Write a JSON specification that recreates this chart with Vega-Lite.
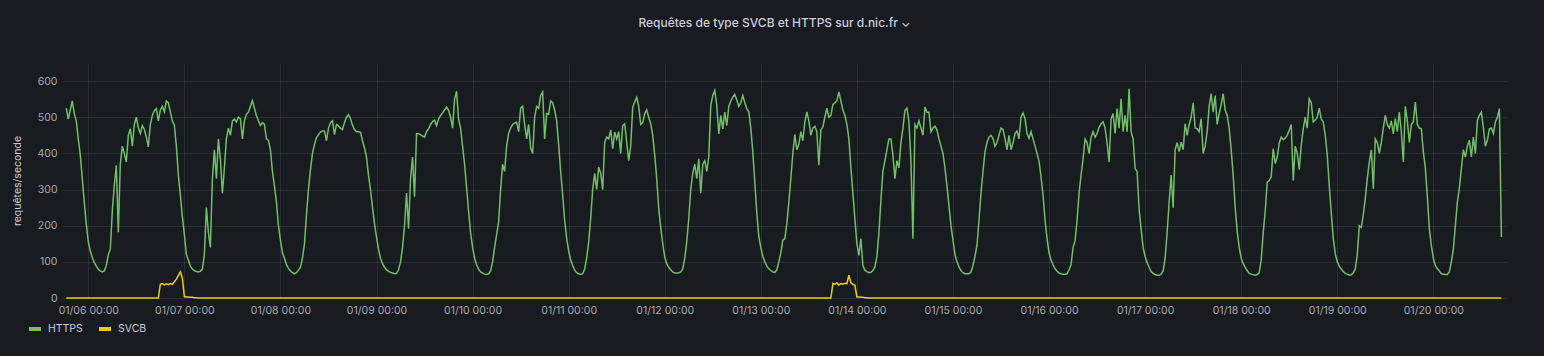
{
"$schema":"https://vega.github.io/schema/vega-lite/v6.json",
"width":1445,"height":235,
"autosize":{"type":"none"},
"padding":{"left":62,"top":63,"right":37,"bottom":58},
"background":"#181b1f",
"title":{"text":"Requêtes de type SVCB et HTTPS sur d.nic.fr ⌄","color":"#ccccdc","fontSize":12,"fontWeight":500,"font":"Inter","anchor":"middle","frame":"group","dx":-10,"offset":33},
"data":{"format":{"parse":{"t":"utc:'%d %H:%M'"}},"values":[
{"t":"05 18:30","HTTPS":525,"SVCB":0},{"t":"05 19:00","HTTPS":495,"SVCB":0},{"t":"05 19:30","HTTPS":520,"SVCB":0},{"t":"05 20:00","HTTPS":545,"SVCB":0},{"t":"05 20:30","HTTPS":510,"SVCB":0},{"t":"05 21:00","HTTPS":490,"SVCB":0},{"t":"05 21:30","HTTPS":440,"SVCB":0},{"t":"05 22:00","HTTPS":395,"SVCB":0},{"t":"05 22:30","HTTPS":330,"SVCB":0},{"t":"05 23:00","HTTPS":265,"SVCB":0},{"t":"05 23:30","HTTPS":205,"SVCB":0},
{"t":"06 00:00","HTTPS":155,"SVCB":0},{"t":"06 00:30","HTTPS":130,"SVCB":0},{"t":"06 01:00","HTTPS":112,"SVCB":0},{"t":"06 01:30","HTTPS":98,"SVCB":0},{"t":"06 02:00","HTTPS":88,"SVCB":0},{"t":"06 02:30","HTTPS":80,"SVCB":0},{"t":"06 03:00","HTTPS":75,"SVCB":0},{"t":"06 03:30","HTTPS":72,"SVCB":0},{"t":"06 04:00","HTTPS":75,"SVCB":0},{"t":"06 04:30","HTTPS":90,"SVCB":0},
{"t":"06 05:00","HTTPS":120,"SVCB":0},{"t":"06 05:30","HTTPS":135,"SVCB":0},{"t":"06 06:00","HTTPS":240,"SVCB":0},{"t":"06 06:30","HTTPS":311,"SVCB":0},{"t":"06 07:00","HTTPS":367,"SVCB":0},{"t":"06 07:30","HTTPS":182,"SVCB":0},{"t":"06 08:00","HTTPS":370,"SVCB":0},{"t":"06 08:30","HTTPS":420,"SVCB":0},{"t":"06 09:00","HTTPS":400,"SVCB":0},{"t":"06 09:30","HTTPS":376,"SVCB":0},
{"t":"06 10:00","HTTPS":450,"SVCB":0},{"t":"06 10:30","HTTPS":468,"SVCB":0},{"t":"06 11:00","HTTPS":420,"SVCB":0},{"t":"06 11:30","HTTPS":480,"SVCB":0},{"t":"06 12:00","HTTPS":500,"SVCB":0},{"t":"06 12:30","HTTPS":470,"SVCB":0},{"t":"06 13:00","HTTPS":455,"SVCB":0},{"t":"06 13:30","HTTPS":477,"SVCB":0},{"t":"06 14:00","HTTPS":466,"SVCB":0},{"t":"06 14:30","HTTPS":445,"SVCB":0},
{"t":"06 15:00","HTTPS":418,"SVCB":0},{"t":"06 15:30","HTTPS":480,"SVCB":0},{"t":"06 16:00","HTTPS":505,"SVCB":0},{"t":"06 16:30","HTTPS":518,"SVCB":0},{"t":"06 17:00","HTTPS":524,"SVCB":0},{"t":"06 17:30","HTTPS":490,"SVCB":0},{"t":"06 18:00","HTTPS":520,"SVCB":38},{"t":"06 18:30","HTTPS":530,"SVCB":40},{"t":"06 19:00","HTTPS":515,"SVCB":36},{"t":"06 19:30","HTTPS":545,"SVCB":39},
{"t":"06 20:00","HTTPS":540,"SVCB":37},{"t":"06 20:30","HTTPS":515,"SVCB":40},{"t":"06 21:00","HTTPS":490,"SVCB":38},{"t":"06 21:30","HTTPS":478,"SVCB":45},{"t":"06 22:00","HTTPS":420,"SVCB":52},{"t":"06 22:30","HTTPS":340,"SVCB":62},{"t":"06 23:00","HTTPS":285,"SVCB":72},{"t":"06 23:30","HTTPS":225,"SVCB":55},
{"t":"07 00:00","HTTPS":175,"SVCB":4},{"t":"07 00:30","HTTPS":120,"SVCB":3},{"t":"07 01:00","HTTPS":105,"SVCB":3},{"t":"07 01:30","HTTPS":88,"SVCB":2},{"t":"07 02:00","HTTPS":80,"SVCB":2},{"t":"07 02:30","HTTPS":76,"SVCB":1},{"t":"07 03:00","HTTPS":73,"SVCB":1},{"t":"07 03:30","HTTPS":72,"SVCB":0},{"t":"07 04:00","HTTPS":74,"SVCB":0},{"t":"07 04:30","HTTPS":80,"SVCB":0},
{"t":"07 05:00","HTTPS":120,"SVCB":0},{"t":"07 05:30","HTTPS":250,"SVCB":0},{"t":"07 06:00","HTTPS":182,"SVCB":0},{"t":"07 06:30","HTTPS":140,"SVCB":0},{"t":"07 07:00","HTTPS":330,"SVCB":0},{"t":"07 07:30","HTTPS":410,"SVCB":0},{"t":"07 08:00","HTTPS":330,"SVCB":0},{"t":"07 08:30","HTTPS":440,"SVCB":0},{"t":"07 09:00","HTTPS":385,"SVCB":0},{"t":"07 09:30","HTTPS":290,"SVCB":0},
{"t":"07 10:00","HTTPS":360,"SVCB":0},{"t":"07 10:30","HTTPS":440,"SVCB":0},{"t":"07 11:00","HTTPS":470,"SVCB":0},{"t":"07 11:30","HTTPS":450,"SVCB":0},{"t":"07 12:00","HTTPS":490,"SVCB":0},{"t":"07 12:30","HTTPS":495,"SVCB":0},{"t":"07 13:00","HTTPS":487,"SVCB":0},{"t":"07 13:30","HTTPS":500,"SVCB":0},{"t":"07 14:00","HTTPS":496,"SVCB":0},{"t":"07 14:30","HTTPS":440,"SVCB":0},
{"t":"07 15:00","HTTPS":490,"SVCB":0},{"t":"07 15:30","HTTPS":508,"SVCB":0},{"t":"07 16:00","HTTPS":514,"SVCB":0},{"t":"07 16:30","HTTPS":530,"SVCB":0},{"t":"07 17:00","HTTPS":546,"SVCB":0},{"t":"07 17:30","HTTPS":525,"SVCB":0},{"t":"07 18:00","HTTPS":505,"SVCB":0},{"t":"07 18:30","HTTPS":490,"SVCB":0},{"t":"07 19:00","HTTPS":477,"SVCB":0},{"t":"07 19:30","HTTPS":485,"SVCB":0},
{"t":"07 20:00","HTTPS":480,"SVCB":0},{"t":"07 20:30","HTTPS":440,"SVCB":0},{"t":"07 21:00","HTTPS":436,"SVCB":0},{"t":"07 21:30","HTTPS":410,"SVCB":0},{"t":"07 22:00","HTTPS":350,"SVCB":0},{"t":"07 22:30","HTTPS":310,"SVCB":0},{"t":"07 23:00","HTTPS":265,"SVCB":0},{"t":"07 23:30","HTTPS":200,"SVCB":0},
{"t":"08 00:00","HTTPS":160,"SVCB":0},{"t":"08 00:30","HTTPS":125,"SVCB":0},{"t":"08 01:00","HTTPS":110,"SVCB":0},{"t":"08 01:30","HTTPS":92,"SVCB":0},{"t":"08 02:00","HTTPS":82,"SVCB":0},{"t":"08 02:30","HTTPS":75,"SVCB":0},{"t":"08 03:00","HTTPS":70,"SVCB":0},{"t":"08 03:30","HTTPS":67,"SVCB":0},{"t":"08 04:00","HTTPS":70,"SVCB":0},{"t":"08 04:30","HTTPS":77,"SVCB":0},
{"t":"08 05:00","HTTPS":85,"SVCB":0},{"t":"08 05:30","HTTPS":110,"SVCB":0},{"t":"08 06:00","HTTPS":150,"SVCB":0},{"t":"08 06:30","HTTPS":230,"SVCB":0},{"t":"08 07:00","HTTPS":300,"SVCB":0},{"t":"08 07:30","HTTPS":355,"SVCB":0},{"t":"08 08:00","HTTPS":400,"SVCB":0},{"t":"08 08:30","HTTPS":425,"SVCB":0},{"t":"08 09:00","HTTPS":443,"SVCB":0},{"t":"08 09:30","HTTPS":452,"SVCB":0},
{"t":"08 10:00","HTTPS":459,"SVCB":0},{"t":"08 10:30","HTTPS":462,"SVCB":0},{"t":"08 11:00","HTTPS":462,"SVCB":0},{"t":"08 11:30","HTTPS":435,"SVCB":0},{"t":"08 12:00","HTTPS":470,"SVCB":0},{"t":"08 12:30","HTTPS":485,"SVCB":0},{"t":"08 13:00","HTTPS":490,"SVCB":0},{"t":"08 13:30","HTTPS":452,"SVCB":0},{"t":"08 14:00","HTTPS":480,"SVCB":0},{"t":"08 14:30","HTTPS":476,"SVCB":0},
{"t":"08 15:00","HTTPS":470,"SVCB":0},{"t":"08 15:30","HTTPS":466,"SVCB":0},{"t":"08 16:00","HTTPS":485,"SVCB":0},{"t":"08 16:30","HTTPS":500,"SVCB":0},{"t":"08 17:00","HTTPS":507,"SVCB":0},{"t":"08 17:30","HTTPS":496,"SVCB":0},{"t":"08 18:00","HTTPS":478,"SVCB":0},{"t":"08 18:30","HTTPS":466,"SVCB":0},{"t":"08 19:00","HTTPS":460,"SVCB":0},{"t":"08 19:30","HTTPS":460,"SVCB":0},
{"t":"08 20:00","HTTPS":458,"SVCB":0},{"t":"08 20:30","HTTPS":435,"SVCB":0},{"t":"08 21:00","HTTPS":415,"SVCB":0},{"t":"08 21:30","HTTPS":390,"SVCB":0},{"t":"08 22:00","HTTPS":339,"SVCB":0},{"t":"08 22:30","HTTPS":300,"SVCB":0},{"t":"08 23:00","HTTPS":250,"SVCB":0},{"t":"08 23:30","HTTPS":205,"SVCB":0},
{"t":"09 00:00","HTTPS":168,"SVCB":0},{"t":"09 00:30","HTTPS":135,"SVCB":0},{"t":"09 01:00","HTTPS":110,"SVCB":0},{"t":"09 01:30","HTTPS":95,"SVCB":0},{"t":"09 02:00","HTTPS":85,"SVCB":0},{"t":"09 02:30","HTTPS":78,"SVCB":0},{"t":"09 03:00","HTTPS":74,"SVCB":0},{"t":"09 03:30","HTTPS":71,"SVCB":0},{"t":"09 04:00","HTTPS":69,"SVCB":0},{"t":"09 04:30","HTTPS":67,"SVCB":0},
{"t":"09 05:00","HTTPS":68,"SVCB":0},{"t":"09 05:30","HTTPS":78,"SVCB":0},{"t":"09 06:00","HTTPS":100,"SVCB":0},{"t":"09 06:30","HTTPS":140,"SVCB":0},{"t":"09 07:00","HTTPS":200,"SVCB":0},{"t":"09 07:30","HTTPS":290,"SVCB":0},{"t":"09 08:00","HTTPS":192,"SVCB":0},{"t":"09 08:30","HTTPS":330,"SVCB":0},{"t":"09 09:00","HTTPS":390,"SVCB":0},{"t":"09 09:30","HTTPS":280,"SVCB":0},
{"t":"09 10:00","HTTPS":454,"SVCB":0},{"t":"09 10:30","HTTPS":454,"SVCB":0},{"t":"09 11:00","HTTPS":452,"SVCB":0},{"t":"09 11:30","HTTPS":448,"SVCB":0},{"t":"09 12:00","HTTPS":445,"SVCB":0},{"t":"09 12:30","HTTPS":460,"SVCB":0},{"t":"09 13:00","HTTPS":468,"SVCB":0},{"t":"09 13:30","HTTPS":480,"SVCB":0},{"t":"09 14:00","HTTPS":488,"SVCB":0},{"t":"09 14:30","HTTPS":492,"SVCB":0},
{"t":"09 15:00","HTTPS":477,"SVCB":0},{"t":"09 15:30","HTTPS":495,"SVCB":0},{"t":"09 16:00","HTTPS":505,"SVCB":0},{"t":"09 16:30","HTTPS":512,"SVCB":0},{"t":"09 17:00","HTTPS":520,"SVCB":0},{"t":"09 17:30","HTTPS":528,"SVCB":0},{"t":"09 18:00","HTTPS":519,"SVCB":0},{"t":"09 18:30","HTTPS":500,"SVCB":0},{"t":"09 19:00","HTTPS":470,"SVCB":0},{"t":"09 19:30","HTTPS":550,"SVCB":0},
{"t":"09 20:00","HTTPS":572,"SVCB":0},{"t":"09 20:30","HTTPS":495,"SVCB":0},{"t":"09 21:00","HTTPS":470,"SVCB":0},{"t":"09 21:30","HTTPS":420,"SVCB":0},{"t":"09 22:00","HTTPS":370,"SVCB":0},{"t":"09 22:30","HTTPS":305,"SVCB":0},{"t":"09 23:00","HTTPS":240,"SVCB":0},{"t":"09 23:30","HTTPS":180,"SVCB":0},
{"t":"10 00:00","HTTPS":140,"SVCB":0},{"t":"10 00:30","HTTPS":110,"SVCB":0},{"t":"10 01:00","HTTPS":92,"SVCB":0},{"t":"10 01:30","HTTPS":80,"SVCB":0},{"t":"10 02:00","HTTPS":72,"SVCB":0},{"t":"10 02:30","HTTPS":69,"SVCB":0},{"t":"10 03:00","HTTPS":66,"SVCB":0},{"t":"10 03:30","HTTPS":65,"SVCB":0},{"t":"10 04:00","HTTPS":67,"SVCB":0},{"t":"10 04:30","HTTPS":75,"SVCB":0},
{"t":"10 05:00","HTTPS":100,"SVCB":0},{"t":"10 05:30","HTTPS":140,"SVCB":0},{"t":"10 06:00","HTTPS":175,"SVCB":0},{"t":"10 06:30","HTTPS":210,"SVCB":0},{"t":"10 07:00","HTTPS":300,"SVCB":0},{"t":"10 07:30","HTTPS":370,"SVCB":0},{"t":"10 08:00","HTTPS":350,"SVCB":0},{"t":"10 08:30","HTTPS":420,"SVCB":0},{"t":"10 09:00","HTTPS":455,"SVCB":0},{"t":"10 09:30","HTTPS":470,"SVCB":0},
{"t":"10 10:00","HTTPS":480,"SVCB":0},{"t":"10 10:30","HTTPS":484,"SVCB":0},{"t":"10 11:00","HTTPS":486,"SVCB":0},{"t":"10 11:30","HTTPS":460,"SVCB":0},{"t":"10 12:00","HTTPS":525,"SVCB":0},{"t":"10 12:30","HTTPS":530,"SVCB":0},{"t":"10 13:00","HTTPS":480,"SVCB":0},{"t":"10 13:30","HTTPS":440,"SVCB":0},{"t":"10 14:00","HTTPS":480,"SVCB":0},{"t":"10 14:30","HTTPS":415,"SVCB":0},
{"t":"10 15:00","HTTPS":400,"SVCB":0},{"t":"10 15:30","HTTPS":500,"SVCB":0},{"t":"10 16:00","HTTPS":530,"SVCB":0},{"t":"10 16:30","HTTPS":525,"SVCB":0},{"t":"10 17:00","HTTPS":560,"SVCB":0},{"t":"10 17:30","HTTPS":570,"SVCB":0},{"t":"10 18:00","HTTPS":440,"SVCB":0},{"t":"10 18:30","HTTPS":510,"SVCB":0},{"t":"10 19:00","HTTPS":508,"SVCB":0},{"t":"10 19:30","HTTPS":545,"SVCB":0},
{"t":"10 20:00","HTTPS":540,"SVCB":0},{"t":"10 20:30","HTTPS":520,"SVCB":0},{"t":"10 21:00","HTTPS":490,"SVCB":0},{"t":"10 21:30","HTTPS":425,"SVCB":0},{"t":"10 22:00","HTTPS":350,"SVCB":0},{"t":"10 22:30","HTTPS":285,"SVCB":0},{"t":"10 23:00","HTTPS":215,"SVCB":0},{"t":"10 23:30","HTTPS":165,"SVCB":0},
{"t":"11 00:00","HTTPS":130,"SVCB":0},{"t":"11 00:30","HTTPS":105,"SVCB":0},{"t":"11 01:00","HTTPS":90,"SVCB":0},{"t":"11 01:30","HTTPS":77,"SVCB":0},{"t":"11 02:00","HTTPS":70,"SVCB":0},{"t":"11 02:30","HTTPS":67,"SVCB":0},{"t":"11 03:00","HTTPS":65,"SVCB":0},{"t":"11 03:30","HTTPS":67,"SVCB":0},{"t":"11 04:00","HTTPS":80,"SVCB":0},{"t":"11 04:30","HTTPS":110,"SVCB":0},
{"t":"11 05:00","HTTPS":155,"SVCB":0},{"t":"11 05:30","HTTPS":220,"SVCB":0},{"t":"11 06:00","HTTPS":300,"SVCB":0},{"t":"11 06:30","HTTPS":345,"SVCB":0},{"t":"11 07:00","HTTPS":300,"SVCB":0},{"t":"11 07:30","HTTPS":362,"SVCB":0},{"t":"11 08:00","HTTPS":345,"SVCB":0},{"t":"11 08:30","HTTPS":300,"SVCB":0},{"t":"11 09:00","HTTPS":430,"SVCB":0},{"t":"11 09:30","HTTPS":445,"SVCB":0},
{"t":"11 10:00","HTTPS":440,"SVCB":0},{"t":"11 10:30","HTTPS":465,"SVCB":0},{"t":"11 11:00","HTTPS":413,"SVCB":0},{"t":"11 11:30","HTTPS":459,"SVCB":0},{"t":"11 12:00","HTTPS":440,"SVCB":0},{"t":"11 12:30","HTTPS":460,"SVCB":0},{"t":"11 13:00","HTTPS":400,"SVCB":0},{"t":"11 13:30","HTTPS":477,"SVCB":0},{"t":"11 14:00","HTTPS":482,"SVCB":0},{"t":"11 14:30","HTTPS":430,"SVCB":0},
{"t":"11 15:00","HTTPS":380,"SVCB":0},{"t":"11 15:30","HTTPS":420,"SVCB":0},{"t":"11 16:00","HTTPS":528,"SVCB":0},{"t":"11 16:30","HTTPS":542,"SVCB":0},{"t":"11 17:00","HTTPS":555,"SVCB":0},{"t":"11 17:30","HTTPS":530,"SVCB":0},{"t":"11 18:00","HTTPS":480,"SVCB":0},{"t":"11 18:30","HTTPS":485,"SVCB":0},{"t":"11 19:00","HTTPS":510,"SVCB":0},{"t":"11 19:30","HTTPS":520,"SVCB":0},
{"t":"11 20:00","HTTPS":500,"SVCB":0},{"t":"11 20:30","HTTPS":482,"SVCB":0},{"t":"11 21:00","HTTPS":450,"SVCB":0},{"t":"11 21:30","HTTPS":395,"SVCB":0},{"t":"11 22:00","HTTPS":330,"SVCB":0},{"t":"11 22:30","HTTPS":247,"SVCB":0},{"t":"11 23:00","HTTPS":195,"SVCB":0},{"t":"11 23:30","HTTPS":150,"SVCB":0},
{"t":"12 00:00","HTTPS":113,"SVCB":0},{"t":"12 00:30","HTTPS":95,"SVCB":0},{"t":"12 01:00","HTTPS":85,"SVCB":0},{"t":"12 01:30","HTTPS":78,"SVCB":0},{"t":"12 02:00","HTTPS":72,"SVCB":0},{"t":"12 02:30","HTTPS":69,"SVCB":0},{"t":"12 03:00","HTTPS":69,"SVCB":0},{"t":"12 03:30","HTTPS":70,"SVCB":0},{"t":"12 04:00","HTTPS":72,"SVCB":0},{"t":"12 04:30","HTTPS":80,"SVCB":0},
{"t":"12 05:00","HTTPS":110,"SVCB":0},{"t":"12 05:30","HTTPS":155,"SVCB":0},{"t":"12 06:00","HTTPS":220,"SVCB":0},{"t":"12 06:30","HTTPS":300,"SVCB":0},{"t":"12 07:00","HTTPS":345,"SVCB":0},{"t":"12 07:30","HTTPS":370,"SVCB":0},{"t":"12 08:00","HTTPS":330,"SVCB":0},{"t":"12 08:30","HTTPS":385,"SVCB":0},{"t":"12 09:00","HTTPS":290,"SVCB":0},{"t":"12 09:30","HTTPS":370,"SVCB":0},
{"t":"12 10:00","HTTPS":380,"SVCB":0},{"t":"12 10:30","HTTPS":350,"SVCB":0},{"t":"12 11:00","HTTPS":390,"SVCB":0},{"t":"12 11:30","HTTPS":533,"SVCB":0},{"t":"12 12:00","HTTPS":560,"SVCB":0},{"t":"12 12:30","HTTPS":574,"SVCB":0},{"t":"12 13:00","HTTPS":533,"SVCB":0},{"t":"12 13:30","HTTPS":454,"SVCB":0},{"t":"12 14:00","HTTPS":505,"SVCB":0},{"t":"12 14:30","HTTPS":468,"SVCB":0},
{"t":"12 15:00","HTTPS":514,"SVCB":0},{"t":"12 15:30","HTTPS":477,"SVCB":0},{"t":"12 16:00","HTTPS":530,"SVCB":0},{"t":"12 16:30","HTTPS":545,"SVCB":0},{"t":"12 17:00","HTTPS":556,"SVCB":0},{"t":"12 17:30","HTTPS":563,"SVCB":0},{"t":"12 18:00","HTTPS":548,"SVCB":0},{"t":"12 18:30","HTTPS":530,"SVCB":0},{"t":"12 19:00","HTTPS":540,"SVCB":0},{"t":"12 19:30","HTTPS":560,"SVCB":0},
{"t":"12 20:00","HTTPS":540,"SVCB":0},{"t":"12 20:30","HTTPS":524,"SVCB":0},{"t":"12 21:00","HTTPS":515,"SVCB":0},{"t":"12 21:30","HTTPS":470,"SVCB":0},{"t":"12 22:00","HTTPS":404,"SVCB":0},{"t":"12 22:30","HTTPS":320,"SVCB":0},{"t":"12 23:00","HTTPS":235,"SVCB":0},{"t":"12 23:30","HTTPS":170,"SVCB":0},
{"t":"13 00:00","HTTPS":140,"SVCB":0},{"t":"13 00:30","HTTPS":115,"SVCB":0},{"t":"13 01:00","HTTPS":100,"SVCB":0},{"t":"13 01:30","HTTPS":88,"SVCB":0},{"t":"13 02:00","HTTPS":81,"SVCB":0},{"t":"13 02:30","HTTPS":76,"SVCB":0},{"t":"13 03:00","HTTPS":72,"SVCB":0},{"t":"13 03:30","HTTPS":71,"SVCB":0},{"t":"13 04:00","HTTPS":78,"SVCB":0},{"t":"13 04:30","HTTPS":100,"SVCB":0},
{"t":"13 05:00","HTTPS":125,"SVCB":0},{"t":"13 05:30","HTTPS":160,"SVCB":0},{"t":"13 06:00","HTTPS":164,"SVCB":0},{"t":"13 06:30","HTTPS":205,"SVCB":0},{"t":"13 07:00","HTTPS":265,"SVCB":0},{"t":"13 07:30","HTTPS":330,"SVCB":0},{"t":"13 08:00","HTTPS":400,"SVCB":0},{"t":"13 08:30","HTTPS":452,"SVCB":0},{"t":"13 09:00","HTTPS":410,"SVCB":0},{"t":"13 09:30","HTTPS":425,"SVCB":0},
{"t":"13 10:00","HTTPS":460,"SVCB":0},{"t":"13 10:30","HTTPS":435,"SVCB":0},{"t":"13 11:00","HTTPS":487,"SVCB":0},{"t":"13 11:30","HTTPS":515,"SVCB":0},{"t":"13 12:00","HTTPS":490,"SVCB":0},{"t":"13 12:30","HTTPS":450,"SVCB":0},{"t":"13 13:00","HTTPS":470,"SVCB":0},{"t":"13 13:30","HTTPS":475,"SVCB":0},{"t":"13 14:00","HTTPS":460,"SVCB":0},{"t":"13 14:30","HTTPS":367,"SVCB":0},
{"t":"13 15:00","HTTPS":465,"SVCB":0},{"t":"13 15:30","HTTPS":473,"SVCB":0},{"t":"13 16:00","HTTPS":500,"SVCB":0},{"t":"13 16:30","HTTPS":525,"SVCB":0},{"t":"13 17:00","HTTPS":500,"SVCB":0},{"t":"13 17:30","HTTPS":505,"SVCB":0},{"t":"13 18:00","HTTPS":535,"SVCB":40},{"t":"13 18:30","HTTPS":540,"SVCB":38},{"t":"13 19:00","HTTPS":545,"SVCB":42},{"t":"13 19:30","HTTPS":570,"SVCB":36},
{"t":"13 20:00","HTTPS":545,"SVCB":40},{"t":"13 20:30","HTTPS":520,"SVCB":38},{"t":"13 21:00","HTTPS":505,"SVCB":41},{"t":"13 21:30","HTTPS":480,"SVCB":40},{"t":"13 22:00","HTTPS":440,"SVCB":63},{"t":"13 22:30","HTTPS":360,"SVCB":42},{"t":"13 23:00","HTTPS":290,"SVCB":38},{"t":"13 23:30","HTTPS":219,"SVCB":35},
{"t":"14 00:00","HTTPS":150,"SVCB":3},{"t":"14 00:30","HTTPS":118,"SVCB":3},{"t":"14 01:00","HTTPS":164,"SVCB":2},{"t":"14 01:30","HTTPS":90,"SVCB":2},{"t":"14 02:00","HTTPS":77,"SVCB":1},{"t":"14 02:30","HTTPS":73,"SVCB":1},{"t":"14 03:00","HTTPS":70,"SVCB":0},{"t":"14 03:30","HTTPS":71,"SVCB":0},{"t":"14 04:00","HTTPS":76,"SVCB":0},{"t":"14 04:30","HTTPS":86,"SVCB":0},
{"t":"14 05:00","HTTPS":115,"SVCB":0},{"t":"14 05:30","HTTPS":180,"SVCB":0},{"t":"14 06:00","HTTPS":270,"SVCB":0},{"t":"14 06:30","HTTPS":350,"SVCB":0},{"t":"14 07:00","HTTPS":380,"SVCB":0},{"t":"14 07:30","HTTPS":410,"SVCB":0},{"t":"14 08:00","HTTPS":440,"SVCB":0},{"t":"14 08:30","HTTPS":440,"SVCB":0},{"t":"14 09:00","HTTPS":395,"SVCB":0},{"t":"14 09:30","HTTPS":330,"SVCB":0},
{"t":"14 10:00","HTTPS":380,"SVCB":0},{"t":"14 10:30","HTTPS":360,"SVCB":0},{"t":"14 11:00","HTTPS":430,"SVCB":0},{"t":"14 11:30","HTTPS":470,"SVCB":0},{"t":"14 12:00","HTTPS":519,"SVCB":0},{"t":"14 12:30","HTTPS":525,"SVCB":0},{"t":"14 13:00","HTTPS":487,"SVCB":0},{"t":"14 13:30","HTTPS":380,"SVCB":0},{"t":"14 14:00","HTTPS":164,"SVCB":0},{"t":"14 14:30","HTTPS":480,"SVCB":0},
{"t":"14 15:00","HTTPS":470,"SVCB":0},{"t":"14 15:30","HTTPS":490,"SVCB":0},{"t":"14 16:00","HTTPS":470,"SVCB":0},{"t":"14 16:30","HTTPS":450,"SVCB":0},{"t":"14 17:00","HTTPS":528,"SVCB":0},{"t":"14 17:30","HTTPS":514,"SVCB":0},{"t":"14 18:00","HTTPS":514,"SVCB":0},{"t":"14 18:30","HTTPS":460,"SVCB":0},{"t":"14 19:00","HTTPS":470,"SVCB":0},{"t":"14 19:30","HTTPS":475,"SVCB":0},
{"t":"14 20:00","HTTPS":465,"SVCB":0},{"t":"14 20:30","HTTPS":440,"SVCB":0},{"t":"14 21:00","HTTPS":420,"SVCB":0},{"t":"14 21:30","HTTPS":400,"SVCB":0},{"t":"14 22:00","HTTPS":360,"SVCB":0},{"t":"14 22:30","HTTPS":310,"SVCB":0},{"t":"14 23:00","HTTPS":255,"SVCB":0},{"t":"14 23:30","HTTPS":200,"SVCB":0},
{"t":"15 00:00","HTTPS":160,"SVCB":0},{"t":"15 00:30","HTTPS":120,"SVCB":0},{"t":"15 01:00","HTTPS":100,"SVCB":0},{"t":"15 01:30","HTTPS":86,"SVCB":0},{"t":"15 02:00","HTTPS":76,"SVCB":0},{"t":"15 02:30","HTTPS":70,"SVCB":0},{"t":"15 03:00","HTTPS":67,"SVCB":0},{"t":"15 03:30","HTTPS":67,"SVCB":0},{"t":"15 04:00","HTTPS":67,"SVCB":0},{"t":"15 04:30","HTTPS":72,"SVCB":0},
{"t":"15 05:00","HTTPS":90,"SVCB":0},{"t":"15 05:30","HTTPS":115,"SVCB":0},{"t":"15 06:00","HTTPS":146,"SVCB":0},{"t":"15 06:30","HTTPS":215,"SVCB":0},{"t":"15 07:00","HTTPS":290,"SVCB":0},{"t":"15 07:30","HTTPS":350,"SVCB":0},{"t":"15 08:00","HTTPS":404,"SVCB":0},{"t":"15 08:30","HTTPS":430,"SVCB":0},{"t":"15 09:00","HTTPS":445,"SVCB":0},{"t":"15 09:30","HTTPS":450,"SVCB":0},
{"t":"15 10:00","HTTPS":442,"SVCB":0},{"t":"15 10:30","HTTPS":420,"SVCB":0},{"t":"15 11:00","HTTPS":430,"SVCB":0},{"t":"15 11:30","HTTPS":450,"SVCB":0},{"t":"15 12:00","HTTPS":470,"SVCB":0},{"t":"15 12:30","HTTPS":466,"SVCB":0},{"t":"15 13:00","HTTPS":440,"SVCB":0},{"t":"15 13:30","HTTPS":410,"SVCB":0},{"t":"15 14:00","HTTPS":450,"SVCB":0},{"t":"15 14:30","HTTPS":410,"SVCB":0},
{"t":"15 15:00","HTTPS":430,"SVCB":0},{"t":"15 15:30","HTTPS":455,"SVCB":0},{"t":"15 16:00","HTTPS":462,"SVCB":0},{"t":"15 16:30","HTTPS":440,"SVCB":0},{"t":"15 17:00","HTTPS":500,"SVCB":0},{"t":"15 17:30","HTTPS":512,"SVCB":0},{"t":"15 18:00","HTTPS":496,"SVCB":0},{"t":"15 18:30","HTTPS":455,"SVCB":0},{"t":"15 19:00","HTTPS":442,"SVCB":0},{"t":"15 19:30","HTTPS":460,"SVCB":0},
{"t":"15 20:00","HTTPS":440,"SVCB":0},{"t":"15 20:30","HTTPS":420,"SVCB":0},{"t":"15 21:00","HTTPS":400,"SVCB":0},{"t":"15 21:30","HTTPS":378,"SVCB":0},{"t":"15 22:00","HTTPS":335,"SVCB":0},{"t":"15 22:30","HTTPS":285,"SVCB":0},{"t":"15 23:00","HTTPS":215,"SVCB":0},{"t":"15 23:30","HTTPS":165,"SVCB":0},
{"t":"16 00:00","HTTPS":125,"SVCB":0},{"t":"16 00:30","HTTPS":105,"SVCB":0},{"t":"16 01:00","HTTPS":92,"SVCB":0},{"t":"16 01:30","HTTPS":81,"SVCB":0},{"t":"16 02:00","HTTPS":74,"SVCB":0},{"t":"16 02:30","HTTPS":69,"SVCB":0},{"t":"16 03:00","HTTPS":67,"SVCB":0},{"t":"16 03:30","HTTPS":66,"SVCB":0},{"t":"16 04:00","HTTPS":66,"SVCB":0},{"t":"16 04:30","HTTPS":67,"SVCB":0},
{"t":"16 05:00","HTTPS":78,"SVCB":0},{"t":"16 05:30","HTTPS":92,"SVCB":0},{"t":"16 06:00","HTTPS":140,"SVCB":0},{"t":"16 06:30","HTTPS":158,"SVCB":0},{"t":"16 07:00","HTTPS":215,"SVCB":0},{"t":"16 07:30","HTTPS":290,"SVCB":0},{"t":"16 08:00","HTTPS":340,"SVCB":0},{"t":"16 08:30","HTTPS":385,"SVCB":0},{"t":"16 09:00","HTTPS":440,"SVCB":0},{"t":"16 09:30","HTTPS":430,"SVCB":0},
{"t":"16 10:00","HTTPS":400,"SVCB":0},{"t":"16 10:30","HTTPS":445,"SVCB":0},{"t":"16 11:00","HTTPS":460,"SVCB":0},{"t":"16 11:30","HTTPS":445,"SVCB":0},{"t":"16 12:00","HTTPS":455,"SVCB":0},{"t":"16 12:30","HTTPS":472,"SVCB":0},{"t":"16 13:00","HTTPS":482,"SVCB":0},{"t":"16 13:30","HTTPS":487,"SVCB":0},{"t":"16 14:00","HTTPS":470,"SVCB":0},{"t":"16 14:30","HTTPS":430,"SVCB":0},
{"t":"16 15:00","HTTPS":376,"SVCB":0},{"t":"16 15:30","HTTPS":495,"SVCB":0},{"t":"16 16:00","HTTPS":510,"SVCB":0},{"t":"16 16:30","HTTPS":455,"SVCB":0},{"t":"16 17:00","HTTPS":524,"SVCB":0},{"t":"16 17:30","HTTPS":470,"SVCB":0},{"t":"16 18:00","HTTPS":551,"SVCB":0},{"t":"16 18:30","HTTPS":460,"SVCB":0},{"t":"16 19:00","HTTPS":505,"SVCB":0},{"t":"16 19:30","HTTPS":460,"SVCB":0},
{"t":"16 20:00","HTTPS":579,"SVCB":0},{"t":"16 20:30","HTTPS":460,"SVCB":0},{"t":"16 21:00","HTTPS":440,"SVCB":0},{"t":"16 21:30","HTTPS":358,"SVCB":0},{"t":"16 22:00","HTTPS":350,"SVCB":0},{"t":"16 22:30","HTTPS":245,"SVCB":0},{"t":"16 23:00","HTTPS":190,"SVCB":0},{"t":"16 23:30","HTTPS":140,"SVCB":0},
{"t":"17 00:00","HTTPS":115,"SVCB":0},{"t":"17 00:30","HTTPS":98,"SVCB":0},{"t":"17 01:00","HTTPS":85,"SVCB":0},{"t":"17 01:30","HTTPS":73,"SVCB":0},{"t":"17 02:00","HTTPS":68,"SVCB":0},{"t":"17 02:30","HTTPS":65,"SVCB":0},{"t":"17 03:00","HTTPS":63,"SVCB":0},{"t":"17 03:30","HTTPS":63,"SVCB":0},{"t":"17 04:00","HTTPS":66,"SVCB":0},{"t":"17 04:30","HTTPS":75,"SVCB":0},
{"t":"17 05:00","HTTPS":110,"SVCB":0},{"t":"17 05:30","HTTPS":182,"SVCB":0},{"t":"17 06:00","HTTPS":265,"SVCB":0},{"t":"17 06:30","HTTPS":340,"SVCB":0},{"t":"17 07:00","HTTPS":250,"SVCB":0},{"t":"17 07:30","HTTPS":410,"SVCB":0},{"t":"17 08:00","HTTPS":430,"SVCB":0},{"t":"17 08:30","HTTPS":405,"SVCB":0},{"t":"17 09:00","HTTPS":431,"SVCB":0},{"t":"17 09:30","HTTPS":410,"SVCB":0},
{"t":"17 10:00","HTTPS":482,"SVCB":0},{"t":"17 10:30","HTTPS":450,"SVCB":0},{"t":"17 11:00","HTTPS":480,"SVCB":0},{"t":"17 11:30","HTTPS":500,"SVCB":0},{"t":"17 12:00","HTTPS":540,"SVCB":0},{"t":"17 12:30","HTTPS":470,"SVCB":0},{"t":"17 13:00","HTTPS":468,"SVCB":0},{"t":"17 13:30","HTTPS":460,"SVCB":0},{"t":"17 14:00","HTTPS":496,"SVCB":0},{"t":"17 14:30","HTTPS":400,"SVCB":0},
{"t":"17 15:00","HTTPS":420,"SVCB":0},{"t":"17 15:30","HTTPS":460,"SVCB":0},{"t":"17 16:00","HTTPS":530,"SVCB":0},{"t":"17 16:30","HTTPS":565,"SVCB":0},{"t":"17 17:00","HTTPS":514,"SVCB":0},{"t":"17 17:30","HTTPS":560,"SVCB":0},{"t":"17 18:00","HTTPS":480,"SVCB":0},{"t":"17 18:30","HTTPS":510,"SVCB":0},{"t":"17 19:00","HTTPS":535,"SVCB":0},{"t":"17 19:30","HTTPS":565,"SVCB":0},
{"t":"17 20:00","HTTPS":520,"SVCB":0},{"t":"17 20:30","HTTPS":505,"SVCB":0},{"t":"17 21:00","HTTPS":470,"SVCB":0},{"t":"17 21:30","HTTPS":410,"SVCB":0},{"t":"17 22:00","HTTPS":340,"SVCB":0},{"t":"17 22:30","HTTPS":250,"SVCB":0},{"t":"17 23:00","HTTPS":185,"SVCB":0},{"t":"17 23:30","HTTPS":140,"SVCB":0},
{"t":"18 00:00","HTTPS":110,"SVCB":0},{"t":"18 00:30","HTTPS":95,"SVCB":0},{"t":"18 01:00","HTTPS":85,"SVCB":0},{"t":"18 01:30","HTTPS":76,"SVCB":0},{"t":"18 02:00","HTTPS":68,"SVCB":0},{"t":"18 02:30","HTTPS":66,"SVCB":0},{"t":"18 03:00","HTTPS":64,"SVCB":0},{"t":"18 03:30","HTTPS":63,"SVCB":0},{"t":"18 04:00","HTTPS":65,"SVCB":0},{"t":"18 04:30","HTTPS":70,"SVCB":0},
{"t":"18 05:00","HTTPS":105,"SVCB":0},{"t":"18 05:30","HTTPS":180,"SVCB":0},{"t":"18 06:00","HTTPS":240,"SVCB":0},{"t":"18 06:30","HTTPS":320,"SVCB":0},{"t":"18 07:00","HTTPS":325,"SVCB":0},{"t":"18 07:30","HTTPS":335,"SVCB":0},{"t":"18 08:00","HTTPS":413,"SVCB":0},{"t":"18 08:30","HTTPS":372,"SVCB":0},{"t":"18 09:00","HTTPS":390,"SVCB":0},{"t":"18 09:30","HTTPS":428,"SVCB":0},
{"t":"18 10:00","HTTPS":445,"SVCB":0},{"t":"18 10:30","HTTPS":438,"SVCB":0},{"t":"18 11:00","HTTPS":442,"SVCB":0},{"t":"18 11:30","HTTPS":450,"SVCB":0},{"t":"18 12:00","HTTPS":464,"SVCB":0},{"t":"18 12:30","HTTPS":480,"SVCB":0},{"t":"18 13:00","HTTPS":325,"SVCB":0},{"t":"18 13:30","HTTPS":420,"SVCB":0},{"t":"18 14:00","HTTPS":400,"SVCB":0},{"t":"18 14:30","HTTPS":355,"SVCB":0},
{"t":"18 15:00","HTTPS":422,"SVCB":0},{"t":"18 15:30","HTTPS":468,"SVCB":0},{"t":"18 16:00","HTTPS":500,"SVCB":0},{"t":"18 16:30","HTTPS":470,"SVCB":0},{"t":"18 17:00","HTTPS":551,"SVCB":0},{"t":"18 17:30","HTTPS":540,"SVCB":0},{"t":"18 18:00","HTTPS":487,"SVCB":0},{"t":"18 18:30","HTTPS":492,"SVCB":0},{"t":"18 19:00","HTTPS":500,"SVCB":0},{"t":"18 19:30","HTTPS":525,"SVCB":0},
{"t":"18 20:00","HTTPS":495,"SVCB":0},{"t":"18 20:30","HTTPS":487,"SVCB":0},{"t":"18 21:00","HTTPS":450,"SVCB":0},{"t":"18 21:30","HTTPS":395,"SVCB":0},{"t":"18 22:00","HTTPS":310,"SVCB":0},{"t":"18 22:30","HTTPS":235,"SVCB":0},{"t":"18 23:00","HTTPS":165,"SVCB":0},{"t":"18 23:30","HTTPS":122,"SVCB":0},
{"t":"19 00:00","HTTPS":100,"SVCB":0},{"t":"19 00:30","HTTPS":88,"SVCB":0},{"t":"19 01:00","HTTPS":80,"SVCB":0},{"t":"19 01:30","HTTPS":73,"SVCB":0},{"t":"19 02:00","HTTPS":68,"SVCB":0},{"t":"19 02:30","HTTPS":66,"SVCB":0},{"t":"19 03:00","HTTPS":63,"SVCB":0},{"t":"19 03:30","HTTPS":64,"SVCB":0},{"t":"19 04:00","HTTPS":70,"SVCB":0},{"t":"19 04:30","HTTPS":80,"SVCB":0},
{"t":"19 05:00","HTTPS":120,"SVCB":0},{"t":"19 05:30","HTTPS":200,"SVCB":0},{"t":"19 06:00","HTTPS":195,"SVCB":0},{"t":"19 06:30","HTTPS":230,"SVCB":0},{"t":"19 07:00","HTTPS":275,"SVCB":0},{"t":"19 07:30","HTTPS":330,"SVCB":0},{"t":"19 08:00","HTTPS":376,"SVCB":0},{"t":"19 08:30","HTTPS":410,"SVCB":0},{"t":"19 09:00","HTTPS":302,"SVCB":0},{"t":"19 09:30","HTTPS":440,"SVCB":0},
{"t":"19 10:00","HTTPS":430,"SVCB":0},{"t":"19 10:30","HTTPS":400,"SVCB":0},{"t":"19 11:00","HTTPS":430,"SVCB":0},{"t":"19 11:30","HTTPS":470,"SVCB":0},{"t":"19 12:00","HTTPS":505,"SVCB":0},{"t":"19 12:30","HTTPS":480,"SVCB":0},{"t":"19 13:00","HTTPS":470,"SVCB":0},{"t":"19 13:30","HTTPS":490,"SVCB":0},{"t":"19 14:00","HTTPS":454,"SVCB":0},{"t":"19 14:30","HTTPS":496,"SVCB":0},
{"t":"19 15:00","HTTPS":460,"SVCB":0},{"t":"19 15:30","HTTPS":514,"SVCB":0},{"t":"19 16:00","HTTPS":460,"SVCB":0},{"t":"19 16:30","HTTPS":376,"SVCB":0},{"t":"19 17:00","HTTPS":530,"SVCB":0},{"t":"19 17:30","HTTPS":490,"SVCB":0},{"t":"19 18:00","HTTPS":430,"SVCB":0},{"t":"19 18:30","HTTPS":480,"SVCB":0},{"t":"19 19:00","HTTPS":487,"SVCB":0},{"t":"19 19:30","HTTPS":542,"SVCB":0},
{"t":"19 20:00","HTTPS":480,"SVCB":0},{"t":"19 20:30","HTTPS":470,"SVCB":0},{"t":"19 21:00","HTTPS":468,"SVCB":0},{"t":"19 21:30","HTTPS":404,"SVCB":0},{"t":"19 22:00","HTTPS":360,"SVCB":0},{"t":"19 22:30","HTTPS":280,"SVCB":0},{"t":"19 23:00","HTTPS":192,"SVCB":0},{"t":"19 23:30","HTTPS":145,"SVCB":0},
{"t":"20 00:00","HTTPS":110,"SVCB":0},{"t":"20 00:30","HTTPS":90,"SVCB":0},{"t":"20 01:00","HTTPS":81,"SVCB":0},{"t":"20 01:30","HTTPS":75,"SVCB":0},{"t":"20 02:00","HTTPS":67,"SVCB":0},{"t":"20 02:30","HTTPS":66,"SVCB":0},{"t":"20 03:00","HTTPS":65,"SVCB":0},{"t":"20 03:30","HTTPS":65,"SVCB":0},{"t":"20 04:00","HTTPS":72,"SVCB":0},{"t":"20 04:30","HTTPS":100,"SVCB":0},
{"t":"20 05:00","HTTPS":135,"SVCB":0},{"t":"20 05:30","HTTPS":200,"SVCB":0},{"t":"20 06:00","HTTPS":265,"SVCB":0},{"t":"20 06:30","HTTPS":305,"SVCB":0},{"t":"20 07:00","HTTPS":358,"SVCB":0},{"t":"20 07:30","HTTPS":410,"SVCB":0},{"t":"20 08:00","HTTPS":390,"SVCB":0},{"t":"20 08:30","HTTPS":420,"SVCB":0},{"t":"20 09:00","HTTPS":436,"SVCB":0},{"t":"20 09:30","HTTPS":390,"SVCB":0},
{"t":"20 10:00","HTTPS":445,"SVCB":0},{"t":"20 10:30","HTTPS":400,"SVCB":0},{"t":"20 11:00","HTTPS":491,"SVCB":0},{"t":"20 11:30","HTTPS":505,"SVCB":0},{"t":"20 12:00","HTTPS":514,"SVCB":0},{"t":"20 12:30","HTTPS":470,"SVCB":0},{"t":"20 13:00","HTTPS":420,"SVCB":0},{"t":"20 13:30","HTTPS":436,"SVCB":0},{"t":"20 14:00","HTTPS":468,"SVCB":0},{"t":"20 14:30","HTTPS":470,"SVCB":0},
{"t":"20 15:00","HTTPS":455,"SVCB":0},{"t":"20 15:30","HTTPS":487,"SVCB":0},{"t":"20 16:00","HTTPS":500,"SVCB":0},{"t":"20 16:30","HTTPS":524,"SVCB":0},{"t":"20 17:00","HTTPS":169,"SVCB":0}
]},
"transform":[{"fold":["HTTPS","SVCB"],"as":["serie","v"]}],
"mark":{"type":"line","strokeWidth":1.5,"interpolate":"linear"},
"encoding":{
"x":{"field":"t","type":"temporal","scale":{"type":"utc","domain":[{"year":1900,"month":1,"date":5,"hours":17,"minutes":26,"utc":true},{"year":1900,"month":1,"date":20,"hours":18,"minutes":24,"utc":true}]},"axis":{"title":null,"tickCount":{"interval":"day","step":1},"labelExpr":"utcFormat(datum.value, '%m/%d %H:%M')","labelPadding":7,"labelFlush":false,"labelOverlap":false}},
"y":{"field":"v","type":"quantitative","scale":{"domain":[0,650],"nice":false,"zero":true},"axis":{"title":"requêtes/seconde","values":[0,100,200,300,400,500,600],"labelPadding":5,"titlePadding":14}},
"color":{"field":"serie","type":"nominal","scale":{"domain":["HTTPS","SVCB"],"range":["#73bf69","#f2cc0c"]},"legend":{"orient":"none","legendX":-35,"legendY":258,"direction":"horizontal","title":null,"symbolType":"stroke","symbolStrokeWidth":4,"symbolSize":144,"labelColor":"#ccccdc","labelFont":"Inter","labelFontSize":10.5,"columnPadding":8,"labelOffset":5}}
},
"config":{
"view":{"stroke":null},
"axis":{"domain":false,"ticks":false,"gridColor":"#ccccdc","gridOpacity":0.1,"labelColor":"#a8a9b0","labelFont":"Inter","labelFontSize":10.5,"titleFont":"Inter","titleColor":"#ccccdc","titleFontSize":10.5,"titleFontWeight":"normal"}
}
}
